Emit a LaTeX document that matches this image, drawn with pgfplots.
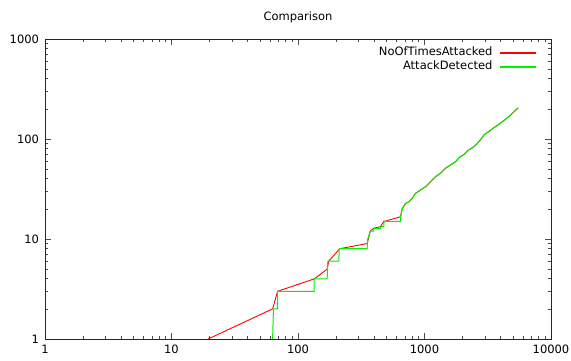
\documentclass[border=0pt]{standalone}
\usepackage{fontspec}
\setmainfont{DejaVu Sans}
\usepackage{pgfplots}
\usepackage{pgfplotstable}
\pgfplotsset{compat=1.18}
\definecolor{gpred}{RGB}{255,0,0}
\definecolor{gpgreen}{RGB}{0,240,0}
\pgfplotstableread{
x y
19.5 1
63 2
69 3
135 4
170 5
175 6
214 8
352 9
373 12
397 12.8
449 13.3
477 15
500 15.2
646 16.7
666 20
708 22.7
753 23.6
800 25.5
849 28.6
929 30.9
1018 33.3
1114 37.4
1221 42
1339 45.4
1466 51
1606 55
1759 59.3
1900 66
2050 70
2179 76
2400 82
2613 90
2800 100
2951 110
3230 119
3540 130
3875 140
4300 155
4800 174
5500 205
}\attacked
\pgfplotstableread{
x y
62 0.5
64 2
69 2
69 3
134 3
134 4
170 4
172 6
210 6
212 8
352 8
356 10
373 12
397 12
400 12.8
449 12.8
452 13.3
477 13.3
479 15
646 15
648 16.7
666 20
708 22.7
753 23.6
800 25.5
849 28.6
929 30.9
1018 33.3
1114 37.4
1221 42
1339 45.4
1466 51
1606 55
1759 59.3
1900 66
2050 70
2179 76
2400 82
2613 90
2800 100
2951 110
3230 119
3540 130
3875 140
4300 155
4800 174
5500 205
}\detected
\begin{document}
\fontsize{11.5bp}{13bp}\selectfont
\begin{tikzpicture}
\begin{loglogaxis}[
  name=ax,
  width=506bp, height=300bp, scale only axis,
  xmin=1, xmax=10000, ymin=1, ymax=1000,
  xtick={1,10,100,1000,10000},
  xticklabels={1,10,100,1000,10000},
  ytick={1,10,100,1000},
  yticklabels={1,10,100,1000},
  minor xtick={2,3,4,5,6,7,8,9,20,30,40,50,60,70,80,90,200,300,400,500,600,700,800,900,2000,3000,4000,5000,6000,7000,8000,9000},
  minor ytick={2,3,4,5,6,7,8,9,20,30,40,50,60,70,80,90,200,300,400,500,600,700,800,900},
  major tick length=6bp, minor tick length=3bp,
  tick style={black!70, line width=0.6bp},
  axis line style={black!85, line width=0.8bp},
  xticklabel style={font=\fontsize{11.5bp}{13bp}\selectfont, yshift=-2bp},
  yticklabel style={font=\fontsize{11.5bp}{13bp}\selectfont, xshift=-2bp},
  title=Comparison,
  title style={font=\fontsize{11.5bp}{13bp}\selectfont, at={(0.5,1)}, anchor=base, yshift=13bp},
  legend plot pos=right,
  legend cell align=right,
  legend style={draw=none, fill=none, at={(1,1)}, anchor=north east,
    xshift=-14.3bp, yshift=-8.3bp, inner sep=0pt, row sep=3bp, column sep=6.7bp,
    font=\fontsize{11.5bp}{13bp}\selectfont,
    nodes={inner sep=0pt, text height=8.5bp, text depth=2.5bp}},
  legend image code/.code={\draw[#1, line width=1.3bp] (0bp,0bp) -- (36bp,0bp);},
]
\addplot[draw=gpred, color=gpred, line width=0.9bp, mark=none] table[x=x, y=y] {\attacked};
\addlegendentry{NoOfTimesAttacked}
\addplot[draw=gpgreen, color=gpgreen, line width=1bp, mark=none] table[x=x, y=y] {\detected};
\addlegendentry{AttackDetected}
\end{loglogaxis}
\pgfresetboundingbox
\path[use as bounding box] ([shift={(-45bp,-22bp)}]ax.south west) rectangle ([shift={(20bp,39bp)}]ax.north east);
\end{tikzpicture}
\end{document}
